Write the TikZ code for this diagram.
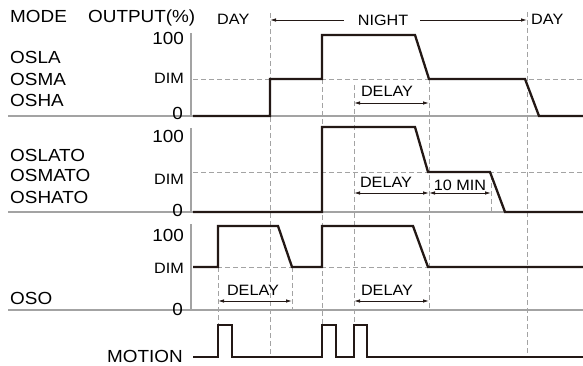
\documentclass[tikz,border=0pt]{standalone}
\usepackage{fontspec}
\setmainfont{Liberation Sans}[FakeStretch=1.08]
\usetikzlibrary{arrows.meta}
\usetikzlibrary{positioning}

\definecolor{ink}{HTML}{231815}
\definecolor{rulegray}{HTML}{A3A3A3}
\newcommand{\lblfont}{\fontsize{17.5}{20}\selectfont}
\newcommand{\smlfont}{\fontsize{15}{17}\selectfont}

\begin{document}
\begin{tikzpicture}[x=1pt,y=-1pt,
    sig/.style={ink,line width=2.3pt,line join=miter},
    axisline/.style={rulegray,line width=1.2pt},
    guide/.style={rulegray,line width=0.8pt,dash pattern=on 5pt off 3pt},
    span/.style={ink,line width=0.9pt,{Latex[length=6pt,width=3.5pt]}-{Latex[length=6pt,width=3.5pt]}},
    big/.style={font=\lblfont,inner sep=0pt},
    small/.style={font=\smlfont,inner sep=0pt}]
\useasboundingbox (0,0) rectangle (583,366);

% header
\node[big,anchor=base west] (mode) at (10,23) {MODE};
\node[big,anchor=base west] (output) at (88,23) {OUTPUT(\%)};
\node[small,anchor=base west] (dayl) at (217,25) {DAY};
\node[small] (night) at (383,20) {NIGHT};
\node[small,anchor=base west] (dayr) at (531,25) {DAY};
\coordinate (nstart) at (270,20);
\coordinate (nend) at (527,20);
\draw[ink,line width=0.9pt,{Latex[length=6pt,width=3.5pt]}-] (nstart) -- ([xshift=-14pt]night.west);
\draw[ink,line width=0.9pt,-{Latex[length=6pt,width=3.5pt]}] ([xshift=12pt]night.east) -- (nend);

% baselines and axes
\draw[axisline] (8,116) -- (583,116);
\draw[axisline] (8,212) -- (583,212);
\draw[axisline] (8,310) -- (583,310);
\draw[axisline] (191,33) -- (191,116);
\draw[axisline] (191,128) -- (191,212);
\draw[axisline] (191,224) -- (191,310);

% DIM levels
\draw[guide] (193,79) -- (583,79);
\draw[guide] (193,172) -- (583,172);
\draw[guide] (193,267) -- (583,267);

% time marks
\draw[guide] (270,13) -- (270,357);
\draw[guide] (527,12) -- (527,357);
\draw[guide] (322,79) -- (322,325);
\draw[guide] (354,85) -- (354,325);
\draw[guide] (429,79) -- (429,310);
\draw[guide] (218,267) -- (218,325);
\draw[guide] (292,267) -- (292,310);
\draw[guide] (491,175) -- (491,212);

% panel 1
\node[big,anchor=base west] (osla) at (10,64) {OSLA};
\node[big,anchor=base west] (osma) at (10,86) {OSMA};
\node[big,anchor=base west] (osha) at (10,107) {OSHA};
\node[big,anchor=base east] (full1) at (184,45) {100};
\node[small,anchor=base east] (dim1) at (184,84) {DIM};
\node[big,anchor=base east] (zero1) at (183,120) {0};
\draw[sig] (193,116) -- (270,116) -- (270,79) -- (322,79) -- (322,35)
  -- (415,35) -- (429,79) -- (525,79) -- (539,116) -- (583,116);
\node[small,anchor=base] (delay1) at (387,97) {DELAY};
\draw[span] (354,103) -- (429,103);

% panel 2
\node[big,anchor=base west] (oslato) at (10,162) {OSLATO};
\node[big,anchor=base west] (osmato) at (10,182) {OSMATO};
\node[big,anchor=base west] (oshato) at (10,203) {OSHATO};
\node[big,anchor=base east] (full2) at (184,143) {100};
\node[small,anchor=base east] (dim2) at (184,184) {DIM};
\node[big,anchor=base east] (zero2) at (183,216) {0};
\draw[sig] (193,212) -- (322,212) -- (322,127) -- (415,127) -- (428,172)
  -- (490,172) -- (505,212) -- (583,212);
\node[small,anchor=base] (delay2) at (386,187) {DELAY};
\node[small,anchor=base] (tenmin) at (460,190) {10 MIN};
\draw[span] (354,193) -- (429,193);
\draw[span] (429,193) -- (491,193);

% panel 3
\node[big,anchor=base west] (oso) at (10,304) {OSO};
\node[big,anchor=base east] (full3) at (184,241) {100};
\node[small,anchor=base east] (dim3) at (184,273) {DIM};
\node[big,anchor=base east] (zero3) at (183,315) {0};
\draw[sig] (193,267) -- (218,267) -- (218,226) -- (278,226) -- (292,267)
  -- (322,267) -- (322,226) -- (413,226) -- (428,267) -- (583,267);
\node[small,anchor=base] (delay3) at (253,295) {DELAY};
\node[small,anchor=base] (delay4) at (387,295) {DELAY};
\draw[span] (218,301) -- (292,301);
\draw[span] (354,301) -- (429,301);

% motion
\node[big,anchor=base east] (motion) at (183,362) {MOTION};
\draw[sig] (193,357) -- (218,357) -- (218,325) -- (232,325) -- (232,357)
  -- (322,357) -- (322,325) -- (336,325) -- (336,357) -- (354,357)
  -- (354,325) -- (367,325) -- (367,357) -- (583,357);
\end{tikzpicture}
\end{document}
